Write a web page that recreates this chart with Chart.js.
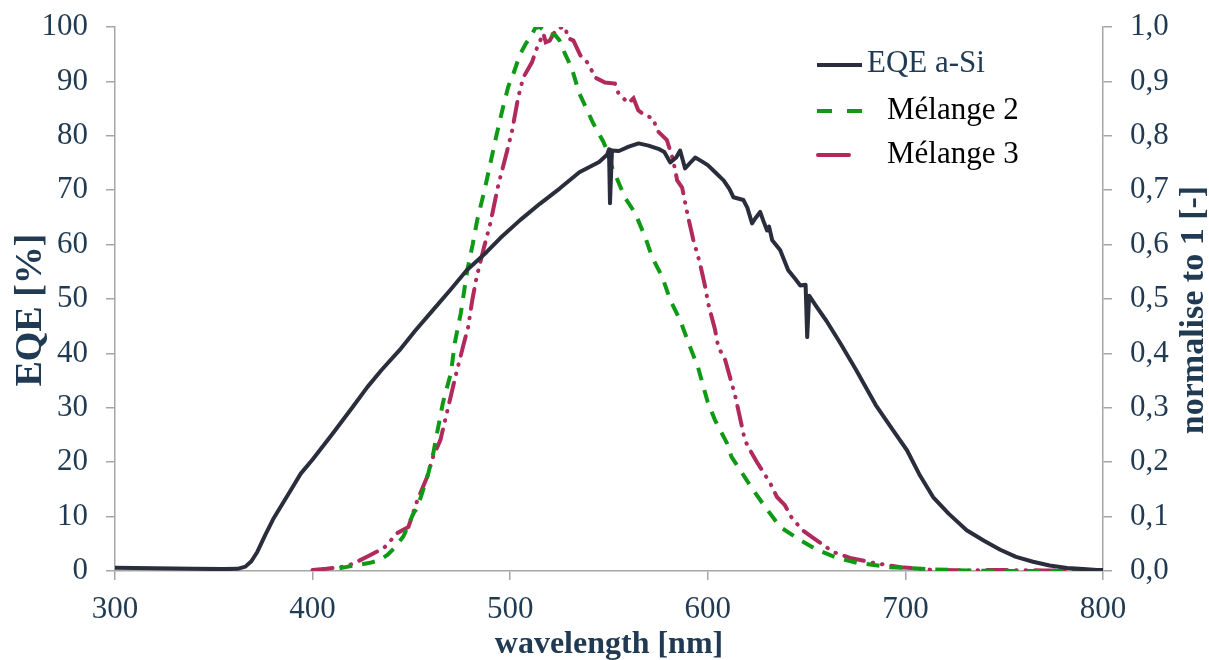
<!DOCTYPE html>
<html>
<head>
<meta charset="utf-8">
<script src="https://cdn.jsdelivr.net/npm/chart.js@4.4.0/dist/chart.umd.min.js"></script>
<style>
html,body{margin:0;padding:0;background:#fff;}
canvas{display:block;}
</style>
</head>
<body>
<canvas id="c" width="1209" height="660"></canvas>
<script>
// ---- Data ----
const xTicks = [300, 400, 500, 600, 700, 800];
const leftTicks = [0, 10, 20, 30, 40, 50, 60, 70, 80, 90, 100];
const rightTicks = [0, 0.1, 0.2, 0.3, 0.4, 0.5, 0.6, 0.7, 0.8, 0.9, 1.0];
const seriesNames = ["EQE a-Si", "Mélange 2", "Mélange 3"];

// EQE a-Si [%] (left axis)
const eqeWl = [300,320,340,355,362,366,369,372,376,380,385,390,394,400,410,420,427.7,435,444,452,461,470,478,488,495,505,515,525,535,545,549,550,550.5,551.5,555,560,565,570,575,578,581,584,586,588.5,591,593.6,597,600,604,608,611,613,618,620,622.4,624,626.5,628.5,630,631,632.6,636.6,640.7,644,646.8,649.5,650.3,651.3,655,660,667,675,685,693.7,700.8,707,714,722,731,740,748,756,764.6,773,781.8,790,797,800];
const eqeVal = [0.6,0.5,0.4,0.35,0.4,0.8,1.8,3.5,6.6,9.5,12.5,15.5,17.9,20.5,25.2,30,33.8,37,40.6,44.2,48,51.8,55.3,58.6,61.2,64.5,67.5,70.3,73.3,75.2,76.5,77.5,67.6,77.3,77.2,78,78.6,78.2,77.6,77,75.1,76,77.3,74,75,76,75.3,74.6,73.2,71.8,70.2,68.7,68.2,66.8,63.9,64.8,66,64,62.6,63.3,60.8,59,55.3,53.8,52.5,52.6,43,50.6,48.6,46,41.9,37,30.5,25.9,22.2,17.8,13.6,10.5,7.5,5.5,3.9,2.6,1.7,1.0,0.55,0.35,0.2,0.2];

// Mélange 2, normalised (right axis)
const m2Wl = [413.6,418,422.5,429,434,438,441.8,446,451,453,456,458.6,461,463,466,470,472,475,478.3,481,483.3,487,490,493,496,499,501.7,505,508,510,512.7,515,518.6,522.8,525,527.8,531,535,542,547,549,552,553,558,563.2,568.3,571.8,577,581,586,591,595,600,603.7,609.7,612,616.3,622.9,629,636.6,646.7,655.3,665.4,675.5,692.2,703.9,715,731,750,764,785,800];
const m2Val = [0.005,0.008,0.011,0.015,0.02,0.03,0.044,0.064,0.106,0.116,0.15,0.18,0.215,0.254,0.31,0.364,0.42,0.474,0.553,0.6,0.645,0.7,0.75,0.8,0.847,0.89,0.915,0.95,0.97,0.98,0.998,1.0,0.988,0.985,0.975,0.95,0.926,0.878,0.823,0.79,0.773,0.737,0.73,0.687,0.658,0.614,0.577,0.54,0.498,0.461,0.412,0.375,0.31,0.277,0.235,0.21,0.186,0.149,0.118,0.081,0.057,0.039,0.024,0.015,0.007,0.005,0.003,0.001,0.0,0.0,0.0,0.0];

// Mélange 3, normalised (right axis)
const m3Wl = [400,407,414,418,422.5,429,436,443,448.5,453,458,461,464.7,468.6,472.2,476.3,478.7,480.8,483,486.4,490,494,498.5,501,504,506.6,511,513.7,516.8,518,520,522,524,528,529,532,535.5,539.5,543,548,553,554.8,559.8,562.4,564.8,568,572.4,574.3,579.3,582.5,584.5,587,589.6,592.7,596,598.7,600.2,603.7,605.3,608.8,613.8,618.8,621.4,624.9,631.5,635,639,642.6,648,653.3,658.3,663.4,672,683.8,697.5,714,730,746.4,770,793];
const m3Val = [0.002,0.004,0.007,0.01,0.017,0.029,0.042,0.07,0.081,0.13,0.173,0.21,0.241,0.301,0.356,0.415,0.448,0.498,0.54,0.59,0.64,0.71,0.773,0.81,0.87,0.907,0.935,0.963,0.988,0.972,0.975,0.988,0.998,1.0,0.98,0.975,0.948,0.933,0.907,0.898,0.896,0.878,0.86,0.869,0.847,0.838,0.832,0.81,0.792,0.755,0.718,0.705,0.658,0.608,0.566,0.522,0.492,0.443,0.412,0.388,0.323,0.24,0.222,0.2,0.162,0.136,0.121,0.097,0.075,0.061,0.048,0.035,0.024,0.015,0.007,0.002,0.001,0.002,0.001,0.001];

// ---- Styles ----
const C_BLACK = '#2a2e3c';
const C_GREEN = '#0f9a16';
const C_MAG = '#b02a5c';
const C_TEXT = '#1f3a52';
const C_AXIS = '#a6a6a6';
const DASH_GREEN = [13, 10];
const DASH_MAG = [20, 9, 0.5, 9, 0.5, 9];

const toPts = (xs, ys) => xs.map((x, i) => ({x: x, y: ys[i]}));

const legendPlugin = {
  id: 'customLegend',
  afterDraw(chart) {
    const ctx = chart.ctx;
    ctx.save();
    ctx.lineWidth = 4;
    ctx.strokeStyle = C_BLACK; ctx.setLineDash([]); ctx.lineCap = 'butt';
    ctx.beginPath(); ctx.moveTo(817, 65); ctx.lineTo(862, 65); ctx.stroke();
    ctx.strokeStyle = C_GREEN; ctx.setLineDash([15, 15]);
    ctx.beginPath(); ctx.moveTo(817, 111); ctx.lineTo(862, 111); ctx.stroke();
    ctx.strokeStyle = C_MAG; ctx.setLineDash([]); ctx.lineCap = 'round';
    ctx.beginPath(); ctx.moveTo(818, 155); ctx.lineTo(849, 155); ctx.stroke();
    ctx.font = '31px "Liberation Serif", "Times New Roman", serif';
    ctx.textAlign = 'left'; ctx.textBaseline = 'middle';
    ctx.fillStyle = C_TEXT; ctx.fillText(seriesNames[0], 867, 64);
    ctx.fillStyle = '#000'; ctx.fillText(seriesNames[1], 887, 111);
    ctx.fillText(seriesNames[2], 887, 155);
    ctx.fillStyle = C_TEXT;
    ctx.textAlign = 'center'; ctx.textBaseline = 'alphabetic';
    ctx.font = 'bold 38px "Liberation Serif", "Times New Roman", serif';
    ctx.save(); ctx.translate(41, 310); ctx.rotate(-Math.PI / 2); ctx.fillText('EQE [%]', 0, 0); ctx.restore();
    ctx.font = 'bold 34px "Liberation Serif", "Times New Roman", serif';
    ctx.save(); ctx.translate(1203, 310); ctx.rotate(-Math.PI / 2); ctx.fillText('normalise to 1 [-]', 0, 0); ctx.restore();
    ctx.restore();
  }
};

const tickFont = {family: '"Liberation Serif", "Times New Roman", serif', size: 31};
const gridOpts = {display: true, drawOnChartArea: false, drawTicks: true, tickLength: 9, color: C_AXIS, lineWidth: 1.5};
const borderOpts = {display: true, color: C_AXIS, width: 1.5};
const noPad = s => { s.paddingTop = 0; s.paddingBottom = 0; s.paddingLeft = 0; s.paddingRight = 0; };

new Chart(document.getElementById('c'), {
  type: 'line',
  data: {
    datasets: [
      {label: seriesNames[0], data: toPts(eqeWl, eqeVal), yAxisID: 'y', borderColor: C_BLACK, borderWidth: 4, pointRadius: 0, tension: 0, borderJoinStyle: 'round'},
      {label: seriesNames[1], data: toPts(m2Wl, m2Val), yAxisID: 'y2', borderColor: C_GREEN, borderWidth: 4, borderDash: DASH_GREEN, pointRadius: 0, tension: 0},
      {label: seriesNames[2], data: toPts(m3Wl, m3Val), yAxisID: 'y2', borderColor: C_MAG, borderWidth: 4, borderDash: DASH_MAG, borderCapStyle: 'round', pointRadius: 0, tension: 0}
    ]
  },
  options: {
    responsive: false,
    animation: false,
    layout: {padding: {top: 27, left: 0, right: 0, bottom: 0}},
    plugins: {legend: {display: false}, tooltip: {enabled: false}},
    scales: {
      x: {
        type: 'linear', position: 'bottom', min: xTicks[0], max: xTicks[xTicks.length - 1],
        afterBuildTicks: s => { s.ticks = xTicks.map(v => ({value: v})); },
        afterFit: s => { s.height = 89; noPad(s); },
        ticks: {font: tickFont, color: C_TEXT, padding: 11, maxRotation: 0, callback: v => String(v)},
        grid: gridOpts, border: borderOpts,
        title: {display: true, text: 'wavelength [nm]', color: C_TEXT, font: {family: tickFont.family, size: 32, weight: 'bold', lineHeight: 0.94}, padding: 0}
      },
      y: {
        type: 'linear', position: 'left', min: 0, max: 100,
        afterBuildTicks: s => { s.ticks = leftTicks.map(v => ({value: v})); },
        afterFit: s => { s.width = 115; noPad(s); },
        ticks: {font: tickFont, color: C_TEXT, padding: 18, callback: v => String(v)},
        grid: gridOpts, border: borderOpts
      },
      y2: {
        type: 'linear', position: 'right', min: 0, max: 1,
        afterBuildTicks: s => { s.ticks = rightTicks.map(v => ({value: v})); },
        afterFit: s => { s.width = 106; noPad(s); },
        ticks: {font: tickFont, color: C_TEXT, padding: 18, callback: v => Number(v).toFixed(1).replace('.', ',')},
        grid: gridOpts, border: borderOpts
      }
    }
  },
  plugins: [legendPlugin]
});
</script>
</body>
</html>
